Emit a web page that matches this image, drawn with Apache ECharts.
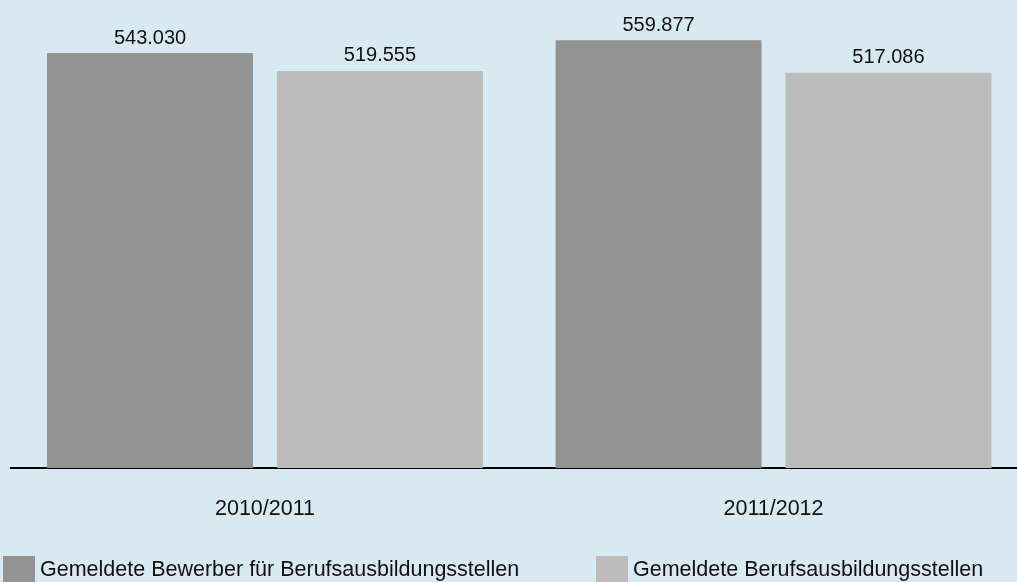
<!DOCTYPE html>
<html>
<head>
<meta charset="utf-8">
<script src="https://cdn.jsdelivr.net/npm/echarts@6/dist/echarts.min.js"></script>
<style>
html,body{margin:0;padding:0;background:#d9e9f2;}
#chart{width:1017px;height:582px;}
</style>
</head>
<body>
<div id="chart"></div>
<script>
const categories = ['2010/2011', '2011/2012'];
const seriesNames = ['Gemeldete Bewerber für Berufsausbildungsstellen', 'Gemeldete Berufsausbildungsstellen'];
const bewerber = [543030, 559877];
const stellen = [519555, 517086];

const FONT = '"Liberation Sans", Arial, sans-serif';
function fmt(v) { return String(v).replace(/\B(?=(\d{3})+(?!\d))/g, '.'); }

const chart = echarts.init(document.getElementById('chart'), null, {renderer: 'canvas'});
const labelCfg = {
  show: true, position: 'top', distance: 5,
  color: '#111', fontFamily: FONT, fontSize: 20,
  formatter: p => fmt(p.value)
};
chart.setOption({
  backgroundColor: '#d9e9f2',
  animation: false,
  grid: {left: 10.75, width: 1017, top: 9.5, height: 458.5, containLabel: false, outerBoundsMode: 'none'},
  xAxis: {
    type: 'category', data: categories,
    axisLine: {show: true, lineStyle: {color: '#000', width: 2}},
    axisTick: {show: false},
    axisLabel: {margin: 30.5, color: '#111', fontFamily: FONT, fontSize: 21.5}
  },
  yAxis: {
    type: 'value', min: 0, max: 600000, show: false,
    splitLine: {show: false}
  },
  legend: [
    {
      data: [seriesNames[0]], left: 3, top: 556, padding: 0,
      itemWidth: 32, itemHeight: 28, icon: 'rect',
      textStyle: {color: '#111', fontFamily: FONT, fontSize: 21.5}
    },
    {
      data: [seriesNames[1]], left: 596, top: 556, padding: 0,
      itemWidth: 32, itemHeight: 28, icon: 'rect',
      textStyle: {color: '#111', fontFamily: FONT, fontSize: 21.5}
    }
  ],
  series: [
    {
      name: seriesNames[0], type: 'bar', data: bewerber,
      barWidth: 206, barGap: '11.6%',
      itemStyle: {color: '#939393'}, label: labelCfg
    },
    {
      name: seriesNames[1], type: 'bar', data: stellen,
      barWidth: 206,
      itemStyle: {color: '#bcbcbc'}, label: labelCfg
    }
  ]
});
</script>
</body>
</html>
